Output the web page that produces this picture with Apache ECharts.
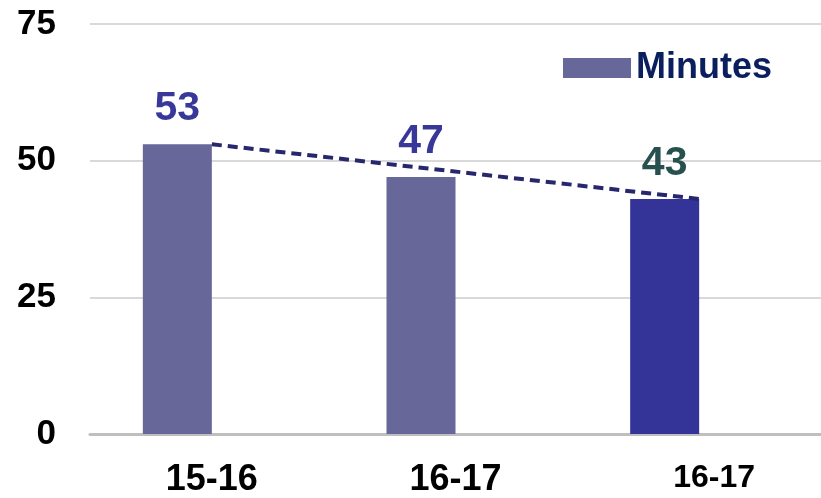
<!DOCTYPE html>
<html>
<head>
<meta charset="utf-8">
<script src="https://cdn.jsdelivr.net/npm/echarts@6/dist/echarts.min.js"></script>
<style>
html,body{margin:0;padding:0;background:#fff;}
#chart{width:821px;height:498px;}
</style>
</head>
<body>
<div id="chart"></div>
<script>
const categories = ['15-16', '16-17', '16-17'];
const minutes = [53, 47, 43];
const trend = [53, null, 43];
const barColors = ['#67679a', '#67679a', '#343498'];
const labelColors = ['#38389a', '#38389a', '#27514f'];
const yMin = 0, yMax = 75, yInterval = 25;

const FONT = '"Liberation Sans", Arial, sans-serif';
const chart = echarts.init(document.getElementById('chart'));
chart.setOption({
  animation: false,
  backgroundColor: '#ffffff',
  grid: { left: 90, right: 0, top: 24, bottom: 64, containLabel: false },
  legend: {
    data: ['Minutes'],
    right: 44, top: 45,
    itemWidth: 68, itemHeight: 20, itemGap: 6,
    icon: 'rect',
    textStyle: { fontFamily: FONT, fontSize: 36, fontWeight: 'bold', color: '#0b1f5e' }
  },
  xAxis: {
    type: 'category',
    data: categories,
    axisLine: { lineStyle: { color: '#bfbfbf', width: 3 } },
    axisTick: { show: false },
    axisLabel: {
      margin: 28,
      formatter: (v, i) => i === 2 ? '{s|' + v + '}' : '{b|' + v + '}',
      rich: {
        b: { fontFamily: FONT, fontSize: 36, fontWeight: 'bold', color: '#000' },
        s: { fontFamily: FONT, fontSize: 32, fontWeight: 'bold', color: '#000', padding: [0, 0, 6, 30] }
      }
    }
  },
  yAxis: {
    type: 'value',
    min: yMin, max: yMax, interval: yInterval,
    axisLine: { show: false },
    axisTick: { show: false },
    splitLine: { lineStyle: { color: '#d9d9d9', width: 2 } },
    axisLabel: { margin: 34, fontFamily: FONT, fontSize: 35, fontWeight: 'bold', color: '#000' }
  },
  series: [
    {
      name: 'Minutes',
      type: 'bar',
      barWidth: 69,
      barGap: '0%',
      itemStyle: { color: barColors[0] },
      data: minutes.map((v, i) => ({
        value: v,
        itemStyle: { color: barColors[i] },
        label: { color: labelColors[i] }
      })),
      label: {
        show: true, position: 'top', distance: 15,
        fontFamily: FONT, fontSize: 41, fontWeight: 'bold'
      },
      z: 2
    },
    {
      name: 'spacer',
      type: 'bar',
      barWidth: 69,
      data: categories.map(() => '-')
    },
    {
      name: 'Trend',
      type: 'line',
      data: trend,
      connectNulls: true,
      symbol: 'none',
      lineStyle: { color: '#27276e', width: 4, type: [10, 6] },
      z: 5
    }
  ]
});
</script>
</body>
</html>
